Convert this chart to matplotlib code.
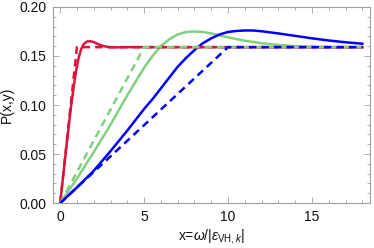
import matplotlib
matplotlib.use("Agg")
import matplotlib.pyplot as plt
from matplotlib.ticker import MultipleLocator

plt.rcParams["font.family"] = ["Liberation Sans", "DejaVu Sans"]
plt.rcParams["mathtext.fontset"] = "custom"
plt.rcParams["mathtext.rm"] = "Liberation Sans"
plt.rcParams["mathtext.it"] = "Liberation Sans:italic"

# Saturation level and dashed (piecewise-linear) curves
level = 0.159
red_dash_x = [0, 1, 18]
red_dash_y = [0, level, level]
green_dash_x = [0, 5, 18]
green_dash_y = [0, level, level]
blue_dash_x = [0, 10, 18]
blue_dash_y = [0, level, level]

# Solid curves
red_x = [0, 0.2, 0.4, 0.6, 0.8, 0.95, 1.1, 1.25, 1.4, 1.6, 1.8, 2.0, 2.3, 2.6, 3.0, 3.5, 4, 18]
red_y = [0, 0.031, 0.062, 0.092, 0.118, 0.135, 0.148, 0.157, 0.162, 0.1648, 0.165, 0.1642,
         0.1618, 0.1600, 0.1588, 0.1588, 0.159, 0.159]

green_x = [0, 1, 2, 3, 4, 4.5, 5, 5.5, 6, 6.5, 7, 7.5, 8, 8.5, 9, 10, 11, 12, 13, 14, 15, 16, 18]
green_y = [0, 0.025, 0.052, 0.080, 0.110, 0.124, 0.138, 0.150, 0.160, 0.167, 0.172, 0.1745,
           0.1750, 0.1745, 0.173, 0.169, 0.1655, 0.163, 0.1612, 0.160, 0.1594, 0.159, 0.159]

blue_x = [0, 1, 2, 3, 4, 5, 5.5, 6, 6.5, 7, 7.5, 8, 8.5, 9, 9.5, 10, 10.5, 11, 11.5, 12,
          13, 14, 15, 16, 17, 18]
blue_y = [0, 0.016, 0.033, 0.053, 0.074, 0.096, 0.106, 0.117, 0.128, 0.139, 0.148, 0.156,
          0.163, 0.168, 0.172, 0.1745, 0.1755, 0.176, 0.176, 0.1752, 0.173, 0.1705, 0.168,
          0.1658, 0.164, 0.1625]

red = "#dc143c"
green = "#80d080"
blue = "#0000ff"

fig = plt.figure(figsize=(3.74, 2.48), dpi=100)
ax = fig.add_axes([0.142, 0.181, 0.847, 0.791])

lw = 1.8
ax.plot(green_x, green_y, color=green, lw=lw)
ax.plot(blue_x, blue_y, color=blue, lw=lw)
ax.plot(red_x, red_y, color=red, lw=lw)
ax.plot(red_dash_x, red_dash_y, color=red, lw=lw, dashes=(3, 2))
ax.plot(green_dash_x, green_dash_y, color=green, lw=lw, dashes=(3, 2))
ax.plot(blue_dash_x, blue_dash_y, color=blue, lw=lw, dashes=(3, 2))

ax.set_xlim(-0.42, 18.45)
ax.set_ylim(0, 0.2)
ax.xaxis.set_major_locator(MultipleLocator(5))
ax.xaxis.set_minor_locator(MultipleLocator(1))
ax.yaxis.set_major_locator(MultipleLocator(0.05))
ax.yaxis.set_minor_locator(MultipleLocator(0.01))
ax.set_yticks([0, 0.05, 0.10, 0.15, 0.20])
ax.set_yticklabels(["0.00", "0.05", "0.10", "0.15", "0.20"])
ax.set_xticks([0, 5, 10, 15])
ax.set_xticklabels(["0", "5", "10", "15"])

for s in ax.spines.values():
    s.set_color("#a0a0a0")
    s.set_linewidth(0.8)
ax.tick_params(which="both", direction="in", top=True, right=True, color="#a0a0a0",
               labelsize=10, labelcolor="#111111", width=0.6)
ax.tick_params(which="major", length=4, pad=5)
ax.tick_params(which="minor", length=2)

ax.set_xlabel(r"x=$\omega$/|$\epsilon_{\mathrm{VH},k}$|", fontsize=10, color="#111111", labelpad=2)
ax.set_ylabel("P(x,y)", fontsize=10, color="#111111")
ax.yaxis.set_label_coords(-0.125, 0.5)

fig.savefig("out.png", dpi=100)
